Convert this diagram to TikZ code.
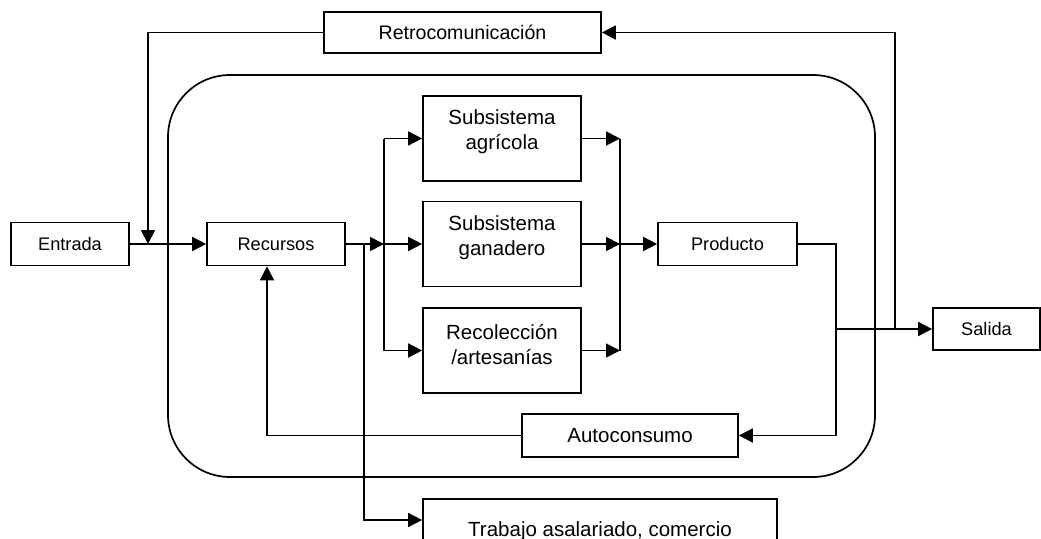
\documentclass[tikz,border=0pt]{standalone}
\usepackage{fontspec}
\setmainfont{Liberation Sans}
\usetikzlibrary{arrows.meta}
\begin{document}
\begin{tikzpicture}[x=1pt,y=-1pt,line width=1.7pt,
  box/.style={draw,inner sep=0pt},
  smalltxt/.style={font=\fontsize{18.2}{22}\selectfont},
  midtxt/.style={font=\fontsize{19.6}{24}\selectfont},
  bigtxt/.style={font=\fontsize{20.5}{25}\selectfont,align=center,inner sep=0pt},
  arr/.style={-{Triangle[length=14pt,width=14pt]}}]
\useasboundingbox (0,0) rectangle (1041,538);
\clip (0,0) rectangle (1041,538);
% system boundary
\draw[rounded corners=62pt] (168,75) rectangle (875,477);
% boxes
\node[box,midtxt,minimum width=277pt,minimum height=41pt] (retro) at (462.5,32.5) {Retrocomunicación};
\node[box,smalltxt,minimum width=118pt,minimum height=43pt] (entrada) at (70,244) {Entrada};
\node[box,smalltxt,minimum width=138pt,minimum height=43pt] (recursos) at (276,244) {Recursos};
\node[box,minimum width=158pt,minimum height=85pt] (agri) at (502,138.5) {};
\node[bigtxt] (agritxt) at (502,131.5) {Subsistema\\agrícola};
\node[box,minimum width=158pt,minimum height=85pt] (gan) at (502,244) {};
\node[bigtxt] (gantxt) at (502,237.5) {Subsistema\\ganadero};
\node[box,minimum width=158pt,minimum height=85pt] (rec) at (502,350.5) {};
\node[bigtxt] (rectxt) at (502,344.5) {Recolección\\/artesanías};
\node[box,smalltxt,minimum width=139pt,minimum height=43pt] (producto) at (727.5,244) {Producto};
\node[box,smalltxt,minimum width=107pt,minimum height=42pt] (salida) at (986.5,329) {Salida};
\node[box,bigtxt,minimum width=216pt,minimum height=43pt] (auto) at (630,435.5) {Autoconsumo};
\node[box,minimum width=354pt,minimum height=42pt] (trabajo) at (600,520) {};
\node[bigtxt,anchor=base] (trabajotxt) at (600,536) {Trabajo asalariado, comercio};
% coordinates
\coordinate (jin) at (148,244);
\coordinate (sj) at (895,329);
\coordinate (bl) at (384,244);
\coordinate (bt) at (384,138.5);
\coordinate (bb) at (384,350.5);
\coordinate (ct) at (620,138.5);
\coordinate (cm) at (620,244);
\coordinate (cb) at (620,350.5);
\coordinate (pd) at (836,435.5);
\coordinate (ps) at (836,329);
\coordinate (ra) at (267,435.5);
\coordinate (tj) at (364,244);
% connectors
\draw[arr] (entrada) -- (recursos);
\draw[arr] (retro.west) -| (jin);
\draw[arr] (sj) |- (retro.east);
\draw[arr] (recursos.east) -- (bl);
\draw (bt) -- (bb);
\draw[arr] (bt) -- (agri.west);
\draw[arr] (bl) -- (gan.west);
\draw[arr] (bb) -- (rec.west);
\draw[arr] (agri.east) -- (ct);
\draw[arr] (gan.east) -- (cm);
\draw[arr] (rec.east) -- (cb);
\draw (ct) -- (cb);
\draw[arr] (cm) -- (producto.west);
\draw[arr] (producto.east) -| (pd) -- (auto.east);
\draw[arr] (ps) -- (salida.west);
\draw[arr] (auto.west) -- (ra) -- (ra |- recursos.south);
\draw[arr] (tj) |- (trabajo.west);
\end{tikzpicture}
\end{document}
